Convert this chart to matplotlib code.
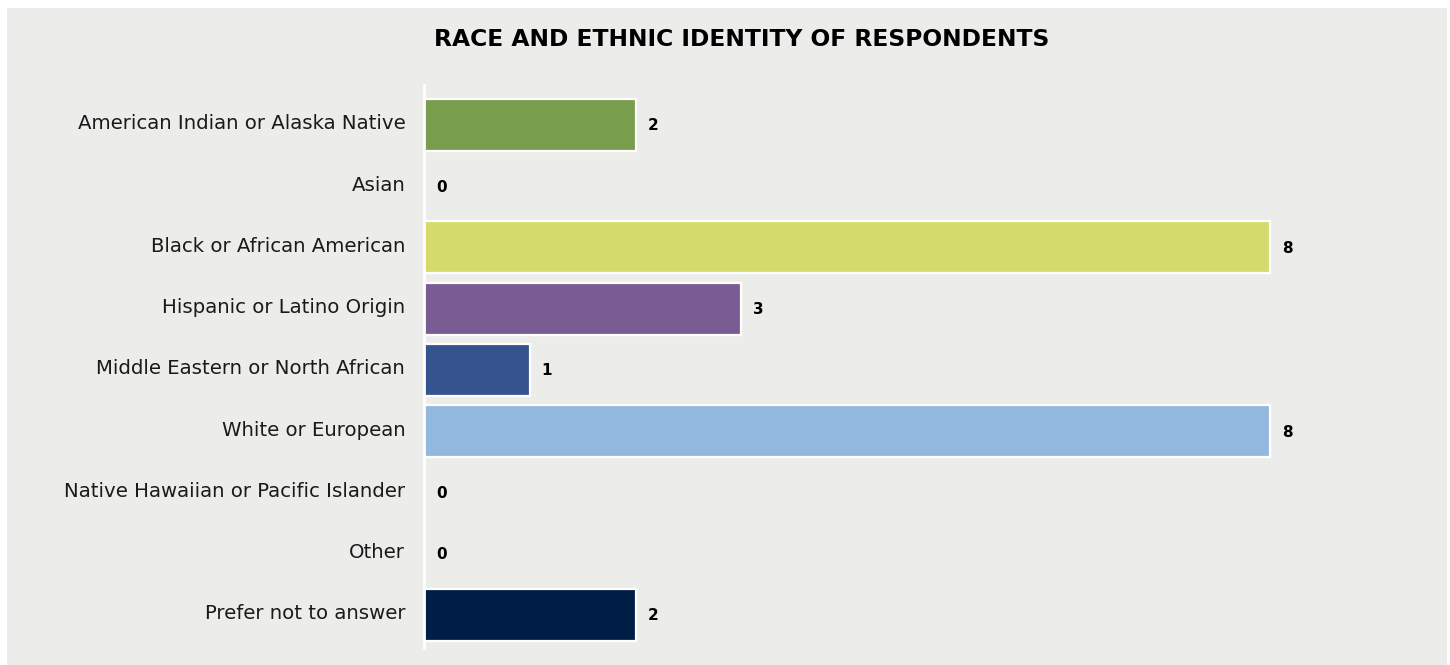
import matplotlib
matplotlib.use("Agg")
import matplotlib.pyplot as plt
from matplotlib.patches import Rectangle
from matplotlib.transforms import ScaledTranslation

categories = [
    "American Indian or Alaska Native",
    "Asian",
    "Black or African American",
    "Hispanic or Latino Origin",
    "Middle Eastern or North African",
    "White or European",
    "Native Hawaiian or Pacific Islander",
    "Other",
    "Prefer not to answer",
]
counts = [2, 0, 8, 3, 1, 8, 0, 0, 2]
bar_colors = ["#789E4D", "#B5B5B5", "#D4DB6C", "#7B5B93", "#35538F",
              "#93B8DD", "#8FA0B3", "#A0A0A0", "#001E45"]
title = "RACE AND ETHNIC IDENTITY OF RESPONDENTS"

W, H = 1450, 665
panel = "#ECEDEA"
font = "DejaVu Sans"

fig = plt.figure(figsize=(W / 100, H / 100), dpi=100)
fig.patch.set_facecolor("white")
fig.patches.append(Rectangle((7 / W, 0), 1440 / W, (H - 8) / H,
                             transform=fig.transFigure, facecolor=panel,
                             edgecolor="none", zorder=-5))

left, right = 424, 1376
top, bottom = 85, 648
ax = fig.add_axes([left / W, (H - bottom) / H, (right - left) / W, (bottom - top) / H])
ax.set_facecolor("none")

ypos = list(range(len(categories)))
ax.barh(ypos, counts, height=0.85, color=bar_colors, edgecolor="white",
        linewidth=1.6, zorder=2)
ax.set_xlim(0, 9)
ax.set_ylim(len(categories) - 0.46, -0.65)

ax.set_yticks(ypos)
ax.set_yticklabels(categories, fontsize=14.2, family=font, color="#1a1a1a")
ax.tick_params(axis="y", length=0, pad=13.5)
lift = ScaledTranslation(0, 3 / 100, fig.dpi_scale_trans)
for lab in ax.get_yticklabels():
    lab.set_transform(lab.get_transform() + lift)
ax.set_xticks([])
for s in ["top", "right", "bottom"]:
    ax.spines[s].set_visible(False)
ax.spines["left"].set_color("white")
ax.spines["left"].set_linewidth(2)
ax.spines["left"].set_zorder(3)

for y, v in zip(ypos, counts):
    ax.annotate(str(v), (v, y), xytext=(12, -1), textcoords="offset pixels",
                ha="left", va="center", fontsize=11, fontweight="bold",
                family=font, color="black")

fig.text(742 / W, 1 - 40 / H, title, ha="center", va="center",
         fontsize=16.8, fontweight="bold", family=font, color="black")

fig.savefig("out.png", dpi=100, facecolor=fig.get_facecolor())
